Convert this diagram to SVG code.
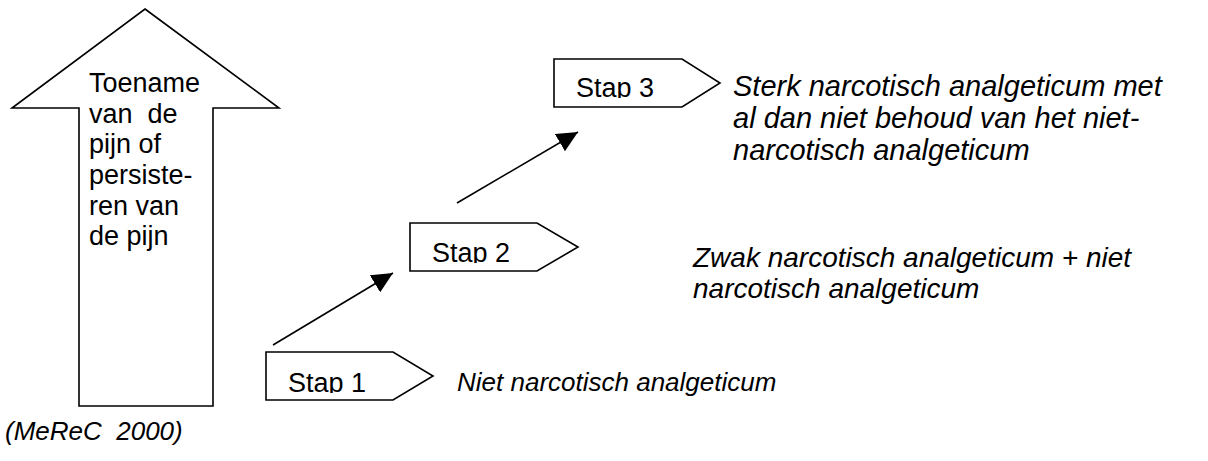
<svg xmlns="http://www.w3.org/2000/svg" width="1208" height="461" viewBox="0 0 1208 461">
  <style>
    .shape { fill: #ffffff; stroke: #000000; stroke-width: 1.6; stroke-linejoin: miter; }
    .lbl { font-family: "Liberation Sans", Arial, sans-serif; font-size: 27px; fill: #000000; white-space: pre; }
    .desc { font-family: "Liberation Sans", Arial, sans-serif; font-size: 28px; font-style: italic; fill: #000000; white-space: pre; }
    .conn { stroke: #000000; stroke-width: 1.6; fill: none; }
  </style>
  <defs>
    <marker id="head" markerUnits="userSpaceOnUse" markerWidth="24" markerHeight="20" refX="21" refY="10" orient="auto">
      <path d="M0,0 L21,10 L0,20 Z" fill="#000000"/>
    </marker>
    <clipPath id="clip1"><rect x="266" y="352" width="130" height="41"/></clipPath>
    <clipPath id="clip2"><rect x="410" y="223" width="130" height="40"/></clipPath>
    <clipPath id="clip3"><rect x="554" y="59" width="130" height="39"/></clipPath>
  </defs>

  <rect width="1208" height="461" fill="#ffffff"/>

  <!-- large up arrow: increase of pain -->
  <g id="pain-arrow">
    <path class="shape" d="M145,9 L279,108 L213,108 L213,406 L79,406 L79,108 L12,108 Z"/>
    <text class="lbl" x="89" y="92">Toename</text>
    <text class="lbl" x="89" y="123">van  de</text>
    <text class="lbl" x="89" y="153">pijn of</text>
    <text class="lbl" x="89" y="184">persiste-</text>
    <text class="lbl" x="89" y="215">ren van</text>
    <text class="lbl" x="89" y="245">de pijn</text>
  </g>

  <!-- step 1 -->
  <g id="stap1">
    <path class="shape" d="M266,352 L393,352 L433,376 L393,400 L266,400 Z"/>
    <text class="lbl" x="288" y="392" clip-path="url(#clip1)">Stap 1</text>
  </g>
  <g id="stap1-text">
    <text class="desc" x="457" y="391" style="font-size:26px">Niet narcotisch analgeticum</text>
  </g>

  <!-- step 2 -->
  <g id="stap2">
    <path class="shape" d="M410,223 L537,223 L578,247 L537,271 L410,271 Z"/>
    <text class="lbl" x="432" y="262" clip-path="url(#clip2)">Stap 2</text>
  </g>
  <g id="stap2-text">
    <text class="desc" x="693" y="267">Zwak narcotisch analgeticum + niet</text>
    <text class="desc" x="693" y="298">narcotisch analgeticum</text>
  </g>

  <!-- step 3 -->
  <g id="stap3">
    <path class="shape" d="M554,59 L682,59 L720,83 L682,107 L554,107 Z"/>
    <text class="lbl" x="576" y="97" clip-path="url(#clip3)">Stap 3</text>
  </g>
  <g id="stap3-text" style="font-size:29px">
    <text class="desc" x="733" y="96" style="font-size:29px">Sterk narcotisch analgeticum met</text>
    <text class="desc" x="733" y="128" style="font-size:29px">al dan niet behoud van het niet-</text>
    <text class="desc" x="733" y="160" style="font-size:29px">narcotisch analgeticum</text>
  </g>

  <!-- connectors between steps -->
  <g id="connectors">
    <line class="conn" x1="273" y1="345" x2="393" y2="273" marker-end="url(#head)"/>
    <line class="conn" x1="457" y1="203" x2="578" y2="132" marker-end="url(#head)"/>
  </g>

  <!-- source reference -->
  <g id="source">
    <text class="desc" x="5" y="440" style="font-size:26px">(MeReC  2000)</text>
  </g>
</svg>
